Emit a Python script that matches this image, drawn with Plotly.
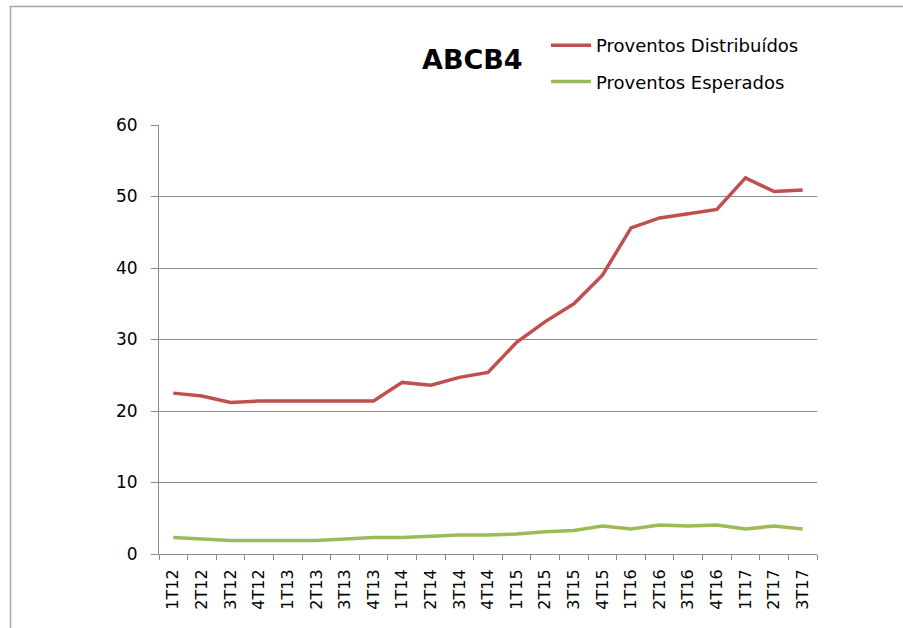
import plotly.graph_objects as go

categories = ["1T12", "2T12", "3T12", "4T12", "1T13", "2T13", "3T13", "4T13",
              "1T14", "2T14", "3T14", "4T14", "1T15", "2T15", "3T15", "4T15",
              "1T16", "2T16", "3T16", "4T16", "1T17", "2T17", "3T17"]
distribuidos = [22.5, 22.1, 21.2, 21.4, 21.4, 21.4, 21.4, 21.4,
                24.0, 23.6, 24.7, 25.4, 29.6, 32.5, 35.0, 39.0,
                45.6, 47.0, 47.6, 48.2, 52.6, 50.7, 50.9]
esperados = [2.3, 2.1, 1.9, 1.9, 1.9, 1.9, 2.1, 2.3,
             2.3, 2.5, 2.65, 2.65, 2.8, 3.1, 3.3, 3.9,
             3.5, 4.05, 3.9, 4.05, 3.5, 3.9, 3.5]
y_ticks = [0, 10, 20, 30, 40, 50, 60]

W, H = 903, 628
L, R, T, B = 159, 86, 125, 74
pw, ph = W - L - R, H - T - B

def px2x(px):
    return (px - L) / pw

def py2y(py):
    return (H - B - py) / ph

font = "DejaVu Sans, Liberation Sans, sans-serif"

fig = go.Figure()
fig.add_trace(go.Scatter(x=categories, y=distribuidos, mode="lines",
                         name="Proventos Distribuídos", legendgroup="a",
                         line=dict(color="#C0504D", width=3.5)))
fig.add_trace(go.Scatter(x=categories, y=esperados, mode="lines",
                         name="Proventos Esperados", legendgroup="b",
                         line=dict(color="#9BBB59", width=3.5)))

fig.update_layout(
    width=W, height=H,
    margin=dict(l=L, r=R, t=T, b=B),
    paper_bgcolor="white", plot_bgcolor="white",
    font=dict(family=font, color="black", size=16),
    showlegend=True,
    legend=dict(x=px2x(546), y=py2y(27), xanchor="left", yanchor="top",
                font=dict(size=18, family=font), traceorder="grouped",
                tracegroupgap=10, bgcolor="rgba(0,0,0,0)", itemwidth=40),
    xaxis=dict(type="category", range=[-0.5, len(categories) - 0.5],
               showgrid=False, showline=True, linecolor="#8c8c8c", linewidth=1,
               ticks="outside", tickson="boundaries", ticklen=5,
               tickcolor="#8c8c8c", tickangle=-90, ticklabelstandoff=8,
               tickfont=dict(size=16, family=font)),
    yaxis=dict(range=[0, 60], tickvals=y_ticks, showgrid=True,
               gridcolor="#8c8c8c", gridwidth=1, showline=True,
               linecolor="#8c8c8c", linewidth=1, ticks="outside", ticklen=7,
               tickcolor="#8c8c8c", zeroline=False, ticklabelstandoff=10,
               tickfont=dict(size=17, family=font)),
    annotations=[dict(text="<b>ABCB4</b>", x=px2x(472), y=py2y(60),
                      xref="paper", yref="paper", showarrow=False,
                      xanchor="center", yanchor="middle",
                      font=dict(size=27, family=font, color="black"))],
    shapes=[
        dict(type="line", xref="paper", yref="paper",
             x0=px2x(10), x1=px2x(903), y0=py2y(6.5), y1=py2y(6.5),
             line=dict(color="#a6a6a6", width=1.5)),
        dict(type="line", xref="paper", yref="paper",
             x0=px2x(10.5), x1=px2x(10.5), y0=py2y(6), y1=py2y(628),
             line=dict(color="#a6a6a6", width=1.5)),
    ],
)

fig.write_html("out.html")
